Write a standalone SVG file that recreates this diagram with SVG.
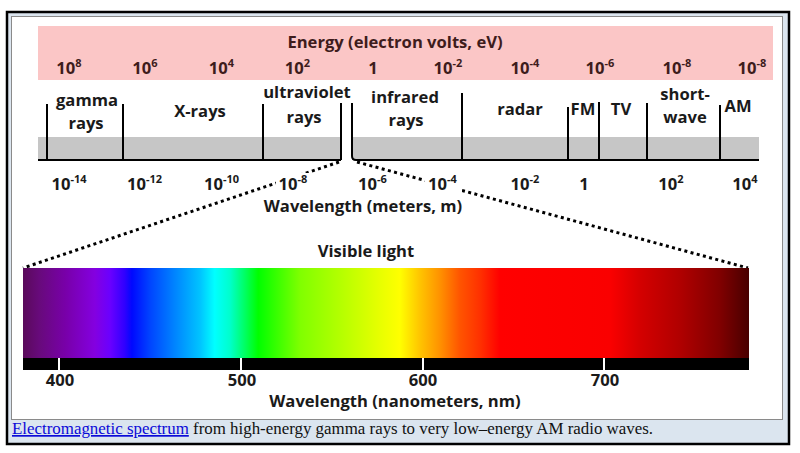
<svg xmlns="http://www.w3.org/2000/svg" width="800" height="453" viewBox="0 0 800 453">
<defs>
<style>
.t{font-family:"Open Sans","Liberation Sans",sans-serif;font-weight:700;font-size:16.6px;fill:#1a1a1a;text-anchor:middle}
.e{fill:#3e1c1c}
.sup{font-size:11px}
.sep{stroke:#000;stroke-width:2;fill:none}
.dot{stroke:#000;stroke-width:3;stroke-dasharray:3 3.4;fill:none}
.mask{fill:#fff}
.cap{font-family:"Liberation Serif","Times New Roman",serif;font-size:16.9px;fill:#111}
</style>
<linearGradient id="vis" x1="0" y1="0" x2="1" y2="0">
<stop offset="0" stop-color="#5a0a5a"/>
<stop offset="0.023" stop-color="#680a7c"/>
<stop offset="0.058" stop-color="#7800a8"/>
<stop offset="0.099" stop-color="#8400e0"/>
<stop offset="0.120" stop-color="#6a00ff"/>
<stop offset="0.140" stop-color="#3000ff"/>
<stop offset="0.150" stop-color="#0008ff"/>
<stop offset="0.175" stop-color="#0044ff"/>
<stop offset="0.209" stop-color="#0084ff"/>
<stop offset="0.244" stop-color="#00c4ff"/>
<stop offset="0.264" stop-color="#00ffff"/>
<stop offset="0.285" stop-color="#00ffcc"/>
<stop offset="0.306" stop-color="#00ff60"/>
<stop offset="0.324" stop-color="#00ff00"/>
<stop offset="0.382" stop-color="#80ff00"/>
<stop offset="0.437" stop-color="#b4ff00"/>
<stop offset="0.492" stop-color="#e8ff00"/>
<stop offset="0.519" stop-color="#ffff00"/>
<stop offset="0.547" stop-color="#ffc400"/>
<stop offset="0.574" stop-color="#ff9200"/>
<stop offset="0.602" stop-color="#ff5400"/>
<stop offset="0.630" stop-color="#ff3000"/>
<stop offset="0.657" stop-color="#ff0000"/>
<stop offset="0.809" stop-color="#fa0000"/>
<stop offset="0.850" stop-color="#d40000"/>
<stop offset="0.905" stop-color="#b00000"/>
<stop offset="0.960" stop-color="#800000"/>
<stop offset="1" stop-color="#480000"/>
</linearGradient>
</defs>

<g id="frame">
<rect x="7" y="12" width="782" height="432" fill="#dbe5ef" stroke="#000" stroke-width="2.5"/>
<rect x="11.5" y="16.5" width="771" height="403" fill="#fff" stroke="#8a8a8a" stroke-width="1"/>
</g>

<g id="energy-scale">
<rect x="38" y="26" width="735" height="54" fill="#fbc6c6"/>
<text class="t e" x="395" y="48">Energy (electron volts, eV)</text>
<text class="t e" x="69" y="74">10<tspan class="sup" dy="-7">8</tspan></text>
<text class="t e" x="145" y="74">10<tspan class="sup" dy="-7">6</tspan></text>
<text class="t e" x="221.5" y="74">10<tspan class="sup" dy="-7">4</tspan></text>
<text class="t e" x="297.5" y="74">10<tspan class="sup" dy="-7">2</tspan></text>
<text class="t e" x="373" y="74">1</text>
<text class="t e" x="448" y="74">10<tspan class="sup" dy="-7">-2</tspan></text>
<text class="t e" x="525" y="74">10<tspan class="sup" dy="-7">-4</tspan></text>
<text class="t e" x="600" y="74">10<tspan class="sup" dy="-7">-6</tspan></text>
<text class="t e" x="677" y="74">10<tspan class="sup" dy="-7">-8</tspan></text>
<text class="t e" x="752" y="74">10<tspan class="sup" dy="-7">-8</tspan></text>
</g>

<g id="band">
<rect x="38" y="137" width="303" height="23" fill="#c6c6c6"/>
<rect x="352" y="137" width="407" height="23" fill="#c6c6c6"/>
<path class="sep" d="M38,160 H341"/>
<path class="sep" d="M352,103 V156 Q352,160 356,160 H759"/>
<path class="sep" d="M47,104 V160 M123,104 V160 M263,104 V160 M341,103 V160 M462,93 V160 M568,107 V160 M599,102 V160 M647,103 V160 M720,105 V160"/>
</g>

<g id="gamma"><text class="t" x="87" y="106">gamma</text><text class="t" x="86" y="129">rays</text></g>
<g id="xrays"><text class="t" x="200" y="117">X-rays</text></g>
<g id="ultraviolet"><text class="t" x="307" y="98">ultraviolet</text><text class="t" x="304" y="123">rays</text></g>
<g id="infrared"><text class="t" x="405" y="103">infrared</text><text class="t" x="406" y="126">rays</text></g>
<g id="radar"><text class="t" x="520" y="115">radar</text></g>
<g id="fm"><text class="t" x="583" y="115">FM</text></g>
<g id="tv"><text class="t" x="621" y="115">TV</text></g>
<g id="shortwave"><text class="t" x="685" y="100">short-</text><text class="t" x="685" y="123">wave</text></g>
<g id="am"><text class="t" x="738" y="112">AM</text></g>

<g id="connectors">
<path class="dot" d="M339,162 L23,268"/>
<path class="dot" d="M357,162 L748,268"/>
</g>

<g id="wavelength-scale">
<rect class="mask" x="276" y="173" width="36" height="21"/>
<rect class="mask" x="425" y="173" width="37" height="21"/>
<text class="t" x="69" y="190">10<tspan class="sup" dy="-7">-14</tspan></text>
<text class="t" x="144.5" y="190">10<tspan class="sup" dy="-7">-12</tspan></text>
<text class="t" x="221.5" y="190">10<tspan class="sup" dy="-7">-10</tspan></text>
<text class="t" x="293" y="190">10<tspan class="sup" dy="-7">-8</tspan></text>
<text class="t" x="372.5" y="190">10<tspan class="sup" dy="-7">-6</tspan></text>
<text class="t" x="442.5" y="190">10<tspan class="sup" dy="-7">-4</tspan></text>
<text class="t" x="525" y="190">10<tspan class="sup" dy="-7">-2</tspan></text>
<text class="t" x="584" y="190">1</text>
<text class="t" x="671" y="190">10<tspan class="sup" dy="-7">2</tspan></text>
<text class="t" x="745" y="190">10<tspan class="sup" dy="-7">4</tspan></text>
<text class="t" x="363" y="212">Wavelength (meters, m)</text>
</g>

<g id="visible-light">
<text class="t" x="366" y="257">Visible light</text>
<rect x="23" y="268" width="726" height="90" fill="url(#vis)"/>
<rect x="23" y="358" width="726" height="12" fill="#000"/>
<path d="M59,358 V370 M241,358 V370 M423,358 V370 M604,358 V370" stroke="#fff" stroke-width="2"/>
<text class="t" x="60" y="386">400</text>
<text class="t" x="242" y="386">500</text>
<text class="t" x="423" y="386">600</text>
<text class="t" x="605" y="386">700</text>
<text class="t" x="395" y="407">Wavelength (nanometers, nm)</text>
</g>

<g id="caption">
<text class="cap" x="12" y="434"><tspan fill="#0b0bd8" text-decoration="underline">Electromagnetic spectrum</tspan> from high-energy gamma rays to very low–energy AM radio waves.</text>
</g>
</svg>
